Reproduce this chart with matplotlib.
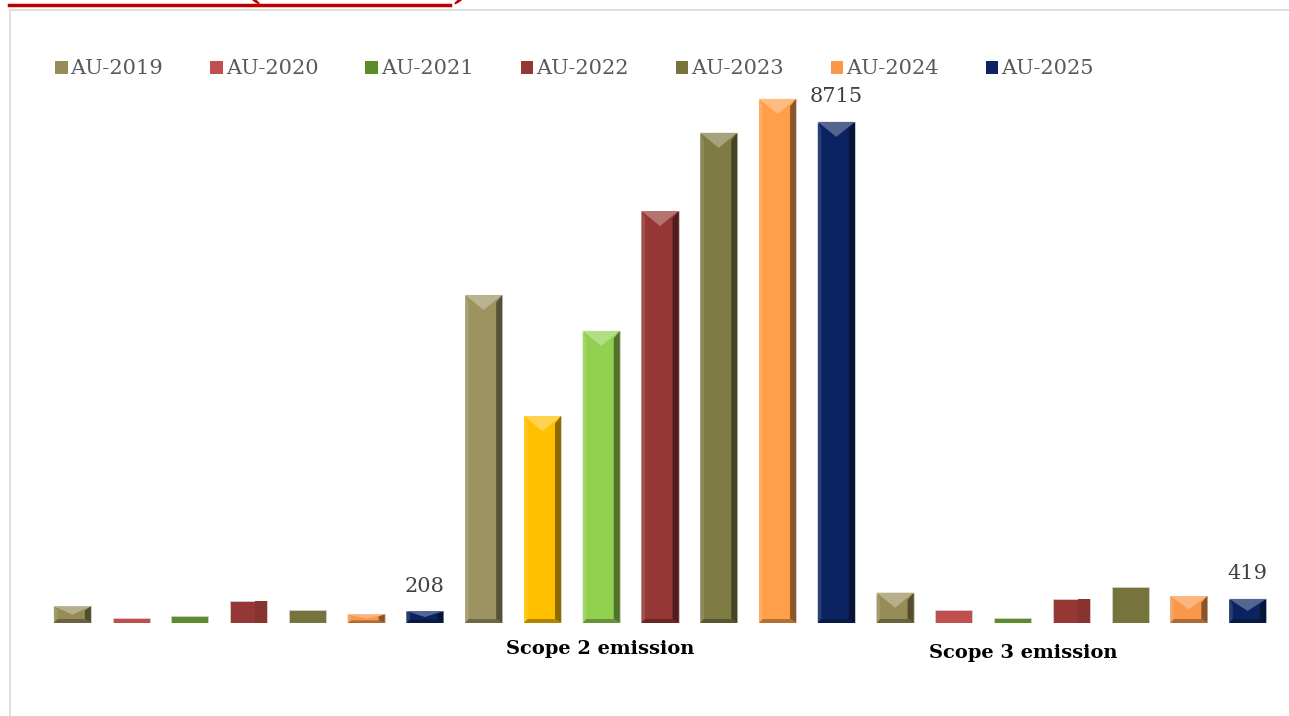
import numpy as np
import matplotlib.pyplot as plt
from matplotlib.patches import Patch, Polygon
from matplotlib.lines import Line2D
from matplotlib.colors import to_rgb

# data
categories = ['Scope 1 emission', 'Scope 2 emission', 'Scope 3 emission']
years = ['AU-2019', 'AU-2020', 'AU-2021', 'AU-2022', 'AU-2023', 'AU-2024', 'AU-2025']
scope1 = [290, 85, 130, 385, 230, 150, 208]
scope2 = [5705, 3600, 5080, 7165, 8525, 9115, 8715]
scope3 = [527, 226, 82, 412, 632, 470, 419]
labelled_year = 'AU-2025'

series_colors = ['#968C58', '#C0504D', '#5B8C2A', '#953735', '#77733C', '#F9974A', '#0B2461']
# scope 2 has two points recoloured
scope2_colors = ['#9C9360', '#FFC000', '#92D050', '#953735', '#7E7B43', '#FF9F4A', '#0B2461']
bevel = [True, False, False, 'grad', False, True, True]


def shade(c, f):
    r = np.array(to_rgb(c))
    if f > 0:
        return tuple(r + (1 - r) * f)
    return tuple(r * (1 + f))


W, H = 1289, 716
fig = plt.figure(figsize=(W / 100, H / 100), dpi=100)
ax = fig.add_axes([43 / W, 93 / H, 1234 / W, 575 / H])

values = [scope1, scope2, scope3]
n = len(years)
x = np.arange(len(categories) * n)
heights = [v for grp in values for v in grp]
colors = [c for g in range(len(categories)) for c in (scope2_colors if g == 1 else series_colors)]
styles = [(True if g == 1 else b) for g in range(len(categories)) for b in bevel]

bw = 0.63
ax.bar(x, heights, width=bw, color=colors, edgecolor='#D0D0D0', linewidth=0.6, zorder=2)
ax.set_xlim(-0.5, len(x) - 0.5)
ax.set_ylim(0, 10000)

# bevel overlay, sizes in pixels converted to data units
xpp = len(x) / 1234
ypp = 10000 / 575
for xi, h, c, st in zip(x, heights, colors, styles):
    if not st:
        continue
    x0, x1 = xi - bw / 2, xi + bw / 2
    xc = xi
    if st == 'grad':
        for k in range(6):
            xa = x1 - (k + 1) * 2 * xpp
            ax.add_patch(Polygon([(xa, 0), (x1, 0), (x1, h), (xa, h)],
                                 color=shade(c, -0.08), lw=0, zorder=3))
        continue
    bx = 6 * xpp
    dtop = min(15 * ypp, h * 0.5)
    dbot = min(4 * ypp, h * 0.3)
    ax.add_patch(Polygon([(x0, h), (x1, h), (xc, h - dtop)], color=shade(c, 0.3), lw=0, zorder=3))
    ax.add_patch(Polygon([(x1, 0), (x1, h), (x1 - bx, h - dtop * 0.5), (x1 - bx, dbot)],
                         color=shade(c, -0.45), lw=0, zorder=3))
    ax.add_patch(Polygon([(x0, 0), (x0, h), (x0 + bx * 0.6, h - dtop * 0.5), (x0 + bx * 0.6, dbot)],
                         color=shade(c, 0.12), lw=0, zorder=3))
    ax.add_patch(Polygon([(x0, 0), (x1, 0), (x1 - bx, dbot), (x0 + bx * 0.6, dbot)],
                         color=shade(c, -0.3), lw=0, zorder=3))

# value labels on the AU-2025 bars
li = years.index(labelled_year)
for g in range(len(categories)):
    v = values[g][li]
    ax.annotate(str(v), (g * n + li, v), xytext=(0, 18), textcoords='offset points',
                ha='center', va='center', fontsize=15, color='#404040', family='DejaVu Serif')

for s in ax.spines.values():
    s.set_visible(False)
ax.set_xticks([])
ax.set_yticks([])

# category labels (first one not shown in the picture)
lab_pos = {1: 8.99, 2: 16.19}
lab_y = {1: -0.045, 2: -0.052}
for g, xp in lab_pos.items():
    ax.text(xp, lab_y[g], categories[g], transform=ax.get_xaxis_transform(),
            ha='center', va='center', fontsize=14, fontweight='bold',
            family='DejaVu Serif', color='black')

handles = [Patch(facecolor=c, edgecolor='none') for c in series_colors]
fig.legend(handles, years, loc='center left', bbox_to_anchor=(55 / W, 1 - 69 / H), ncol=n,
           frameon=False, handlelength=0.6, handleheight=0.6, handletextpad=0.15,
           columnspacing=2.25, borderaxespad=0, borderpad=0,
           prop={'family': 'DejaVu Serif', 'size': 15}, labelcolor='#595959')

# chart frame and the cut-off title above it
fig.add_artist(Line2D([10 / W, 1], [1 - 10 / H, 1 - 10 / H], color='#D9D9D9', lw=1.2))
fig.add_artist(Line2D([10 / W, 10 / W], [0, 1 - 10 / H], color='#D9D9D9', lw=1.2))
fig.text(9 / W, 1 + 2 / H, 'GHG Chart (Year-wise)', color='#C00000', fontsize=26,
         fontweight='bold', family='DejaVu Serif', va='baseline', ha='left')
fig.add_artist(Line2D([9 / W, 450 / W], [1 - 5 / H, 1 - 5 / H], color='#C00000', lw=2.5))

fig.savefig('out.png', dpi=100, facecolor='white')
